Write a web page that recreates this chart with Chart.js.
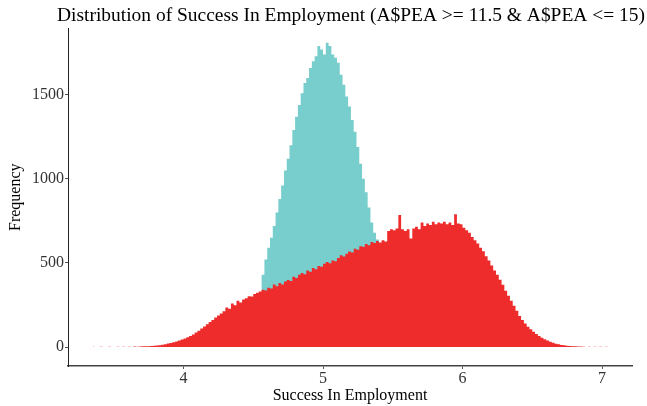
<!DOCTYPE html>
<html>
<head>
<meta charset="utf-8">
<script src="https://cdn.jsdelivr.net/npm/chart.js@4/dist/chart.umd.min.js"></script>
<style>
body { margin: 0; background: #fff; }
</style>
</head>
<body>
<canvas id="hist_chart" width="647" height="406"></canvas>
<script>
// histogram bins, 0.02 wide, first bin centred at binStart
var binStart = 3.35;
var binWidth = 0.02;
var redCounts = [
    2, 0, 0, 2, 0, 0, 2, 0, 0, 2,
    0, 2, 0, 2, 0, 3, 2, 3, 4, 4,
    5, 6, 7, 9, 11, 14, 17, 21, 24, 28,
    33, 38, 45, 50, 58, 66, 75, 86, 97, 110,
    122, 135, 148, 160, 175, 188, 200, 212, 235, 228,
    258, 248, 275, 265, 282, 290, 302, 300, 315, 322,
    330, 340, 336, 352, 348, 372, 362, 380, 372, 390,
    398, 392, 418, 410, 430, 440, 432, 455, 448, 470,
    462, 482, 478, 495, 505, 498, 515, 510, 530, 545,
    538, 555, 568, 562, 585, 578, 600, 596, 612, 605,
    625, 618, 630, 622, 635, 628, 690, 700, 695, 705,
    785, 700, 690, 700, 645, 705, 715, 700, 740, 720,
    735, 725, 745, 730, 740, 735, 745, 730, 740, 725,
    790, 735, 730, 710, 695, 680, 655, 635, 615, 590,
    570, 540, 515, 485, 455, 430, 400, 370, 335, 305,
    275, 245, 215, 185, 160, 140, 120, 105, 90, 78,
    65, 55, 46, 38, 31, 25, 20, 16, 12, 10,
    8, 6, 5, 4, 3, 3, 2, 0, 2, 0,
    2, 0, 2, 0, 2, 0
];
var tealStart = 4.55;
var tealCounts = [
    320, 430, 520, 590, 650, 720, 800, 880, 960, 1050,
    1120, 1200, 1290, 1370, 1440, 1510, 1570, 1600, 1660, 1700,
    1730, 1790, 1770, 1740, 1810, 1790, 1740, 1720, 1690, 1620,
    1560, 1490, 1430, 1350, 1280, 1190, 1090, 1000, 920, 830,
    740, 680, 640, 600, 500, 380
];
var xTicks = [4, 5, 6, 7];
var yTicks = [0, 500, 1000, 1500];

function toPoints(start, counts) {
    return counts.map(function(c, i) {
        return { x: Math.round((start + i * binWidth) * 100) / 100, y: c };
    });
}

Chart.defaults.font.family = "'Liberation Serif', 'DejaVu Serif', serif";
Chart.defaults.color = '#333';

// centre the title over the panel like ggplot does
var titleOverPanel = {
    id: 'titleOverPanel',
    afterLayout: function(chart) {
        chart.titleBlock.left = 57;
        chart.titleBlock.right = 645;
    }
};

// histogram drawn as a filled step line, so the bins have no seams
var histStyle = { stepped: 'middle', fill: 'origin', pointRadius: 0, borderWidth: 0, tension: 0 };

var ctx = document.getElementById('hist_chart');
var chart = new Chart(ctx, {
    type: 'line',
    data: {
        datasets: [
            Object.assign({ label: 'all', data: toPoints(binStart, redCounts), backgroundColor: '#EE2C2C', borderColor: '#EE2C2C', order: 0 }, histStyle),
            Object.assign({ label: 'subset', data: toPoints(tealStart, tealCounts), backgroundColor: '#78CDCD', borderColor: '#78CDCD', order: 1 }, histStyle)
        ]
    },
    options: {
        responsive: false,
        animation: false,
        layout: { padding: { left: 0, right: 15, top: 0, bottom: 0 } },
        plugins: {
            legend: { display: false },
            tooltip: { enabled: false },
            title: {
                display: true,
                text: 'Distribution of Success In Employment (A$PEA >= 11.5 & A$PEA <= 15)',
                color: '#000',
                font: { size: 19.5, weight: 'normal' },
                padding: { top: 4, bottom: 1 }
            }
        },
        scales: {
            x: {
                type: 'linear',
                min: 3.172,
                max: 7.215,
                afterBuildTicks: function(s) { s.ticks = xTicks.map(function(v) { return { value: v }; }); },
                afterFit: function(s) { s.height = 40; },
                grid: { drawOnChartArea: false, tickLength: 3, color: '#555' },
                border: { display: true, color: '#444', width: 1.5 },
                ticks: { padding: 0, font: { size: 16 }, maxRotation: 0, callback: function(v) { return String(v); } },
                title: { display: true, text: 'Success In Employment', color: '#000', font: { size: 16 }, padding: { top: 0, bottom: 1 } }
            },
            y: {
                min: -113,
                max: 1895,
                afterBuildTicks: function(s) { s.ticks = yTicks.map(function(v) { return { value: v }; }); },
                afterFit: function(s) { s.width = 68; },
                grid: { drawOnChartArea: false, tickLength: 3, color: '#555' },
                border: { display: true, color: '#222', width: 1 },
                ticks: { padding: 1, font: { size: 16 }, callback: function(v) { return String(v); } },
                title: { display: true, text: 'Frequency', color: '#000', font: { size: 16 }, padding: { top: 6, bottom: 0 } }
            }
        }
    },
    plugins: [titleOverPanel]
});
</script>
</body>
</html>
